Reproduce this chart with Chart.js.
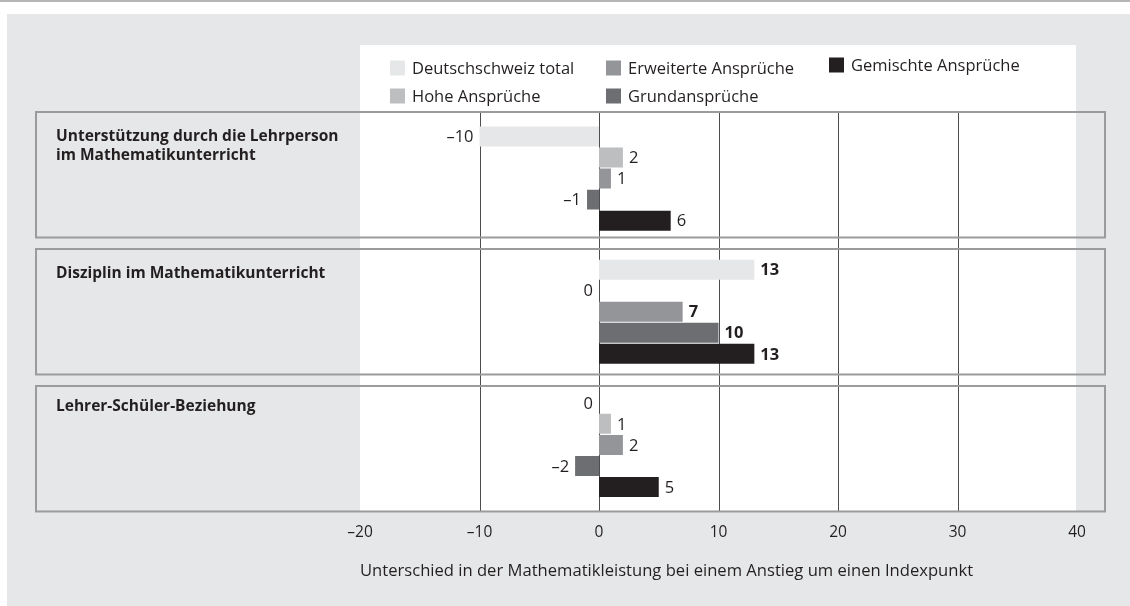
<!DOCTYPE html>
<html>
<head>
<meta charset="utf-8">
<script src="https://cdn.jsdelivr.net/npm/chart.js@4/dist/chart.umd.min.js"></script>
<style>
  html, body { margin: 0; padding: 0; background: #fff; }
  #wrap { width: 1130px; height: 606px; }
</style>
</head>
<body>
<div id="wrap"><canvas id="chart" width="1130" height="606"></canvas></div>
<script>
// categories (each entry = lines of the group title)
const categories = [
    ['Unterstützung durch die Lehrperson', 'im Mathematikunterricht'],
    ['Disziplin im Mathematikunterricht'],
    ['Lehrer-Schüler-Beziehung']
];
const seriesNames = ['Deutschschweiz total', 'Hohe Ansprüche', 'Erweiterte Ansprüche', 'Grundansprüche', 'Gemischte Ansprüche'];
const totalValues = [-10, 13, 0];
const hoheValues = [2, 0, 1];
const erweiterteValues = [1, 7, 2];
const grundValues = [-1, 10, -2];
const gemischteValues = [6, 13, 5];
const xTicks = [-20, -10, 0, 10, 20, 30, 40];
const boldCategory = 1; // values in this group are printed bold (except 0)
const axisTitle = 'Unterschied in der Mathematikleistung bei einem Anstieg um einen Indexpunkt';

const colors = ['#e6e7e8', '#bcbec0', '#939598', '#6d6e71', '#231f20'];
const textColor = '#231f20';
const seriesValues = [totalValues, hoheValues, erweiterteValues, grundValues, gemischteValues];

function fmt(v) {
    return v < 0 ? '\u2013' + Math.abs(v) : String(v);
}

// background, white plotting panel
const backgroundPlugin = {
    id: 'background',
    beforeDraw(chart) {
        const ctx = chart.ctx;
        const a = chart.chartArea;
        const x = chart.scales.x;
        ctx.save();
        ctx.fillStyle = '#fff';
        ctx.fillRect(0, 0, chart.width, chart.height);
        ctx.fillStyle = '#b5b5b5';
        ctx.fillRect(0, 0, chart.width, 2);
        ctx.fillStyle = '#e6e7e8';
        ctx.fillRect(7, 14, chart.width - 7, chart.height - 14);
        ctx.fillStyle = '#fff';
        ctx.fillRect(x.left, 45, x.right - x.left - 1, a.bottom - 45);
        ctx.restore();
    }
};

// gridlines, group boxes, group titles, value labels, legend
const groupPlugin = {
    id: 'groups',
    beforeDatasetsDraw(chart) {
        const ctx = chart.ctx;
        const a = chart.chartArea;
        const x = chart.scales.x;
        ctx.save();
        ctx.strokeStyle = '#4d4d4f';
        ctx.lineWidth = 1;
        xTicks.slice(1, -1).forEach(t => {
            const px = Math.round(x.getPixelForValue(t)) + 0.5;
            ctx.beginPath();
            ctx.moveTo(px, a.top);
            ctx.lineTo(px, a.bottom);
            ctx.stroke();
        });

        const gap = 11.5;
        const h = (a.bottom - a.top - 2 * gap) / categories.length;
        ctx.strokeStyle = '#9a9b9d';
        ctx.lineWidth = 2;
        ctx.fillStyle = textColor;
        ctx.font = 'bold 15.5px "Open Sans"';
        ctx.textBaseline = 'middle';
        ctx.textAlign = 'left';
        categories.forEach((lines, i) => {
            const top = a.top + i * (h + gap);
            ctx.strokeRect(36, top, 1105 - 36, h);
            lines.forEach((line, j) => {
                ctx.fillText(line, 56, top + (i === 2 ? 21 : 25) + j * 19);
            });
        });
        ctx.restore();
    },
    afterDatasetsDraw(chart) {
        const ctx = chart.ctx;
        ctx.save();
        ctx.fillStyle = textColor;
        ctx.textBaseline = 'middle';
        chart.data.datasets.forEach((ds, di) => {
            const meta = chart.getDatasetMeta(di);
            meta.data.forEach((bar, i) => {
                const v = ds.data[i];
                const bold = i === boldCategory && v !== 0;
                ctx.font = (bold ? 'bold ' : '') + '16.5px "Open Sans"';
                if (v > 0) {
                    ctx.textAlign = 'left';
                    ctx.fillText(fmt(v), bar.x + 6, bar.y + 1);
                } else {
                    ctx.textAlign = 'right';
                    ctx.fillText(fmt(v), bar.x - 6, bar.y + 1);
                }
            });
        });

        // legend, filled column by column
        const colX = [390, 606, 829];
        const rowY = [68, 96];
        ctx.font = '16.5px "Open Sans"';
        ctx.textAlign = 'left';
        chart.data.datasets.forEach((ds, di) => {
            const col = Math.floor(di / 2);
            const row = di % 2;
            const sx = colX[col];
            const sy = rowY[row] - (col === 2 ? 3 : 0);
            ctx.fillStyle = ds.backgroundColor;
            ctx.fillRect(sx, sy - 7.5, 15, 15);
            ctx.fillStyle = textColor;
            ctx.fillText(ds.label, sx + 22, sy + 1);
        });
        ctx.restore();
    }
};

new Chart(document.getElementById('chart'), {
    type: 'bar',
    data: {
        labels: categories.map(c => c.join(' ')),
        datasets: seriesNames.map((name, i) => ({
            label: name,
            data: seriesValues[i],
            backgroundColor: colors[i],
            borderWidth: 0,
            categoryPercentage: 0.79,
            barPercentage: 0.95
        }))
    },
    options: {
        indexAxis: 'y',
        responsive: false,
        animation: false,
        layout: { padding: { left: 360, right: 53, top: 112, bottom: 25 } },
        plugins: {
            legend: { display: false },
            tooltip: { enabled: false }
        },
        scales: {
            y: { type: 'category', display: false },
            x: {
                type: 'linear',
                min: -20,
                max: 40,
                afterBuildTicks(scale) {
                    scale.ticks = xTicks.map(v => ({ value: v }));
                },
                grid: { display: false, drawTicks: false },
                border: { display: false },
                ticks: {
                    padding: 12,
                    color: textColor,
                    font: { family: '"Open Sans"', size: 15.5 },
                    callback: v => fmt(v)
                },
                title: {
                    display: true,
                    text: axisTitle,
                    align: 'start',
                    color: textColor,
                    font: { family: '"Open Sans"', size: 16.6 },
                    padding: { top: 7, bottom: 0 }
                }
            }
        }
    },
    plugins: [backgroundPlugin, groupPlugin]
});
</script>
</body>
</html>
